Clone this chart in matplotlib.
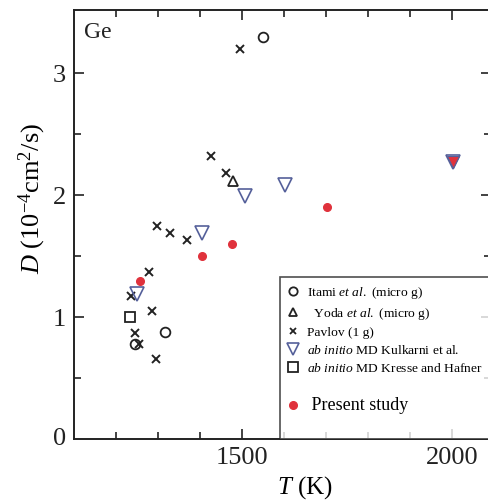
import matplotlib.pyplot as plt
from matplotlib.lines import Line2D

plt.rcParams['font.family'] = 'Liberation Serif'
plt.rcParams['mathtext.fontset'] = 'custom'
plt.rcParams['mathtext.rm'] = 'Liberation Serif'
plt.rcParams['mathtext.it'] = 'Liberation Serif:italic'

# %% Data (T in K, D in 1e-4 cm^2/s)
itami_T = [1549, 1245, 1316]
itami_D = [3.30, 0.78, 0.88]

yoda_T = [1478]
yoda_D = [2.12]

pavlov_T = [1496, 1427, 1462, 1297, 1328, 1368, 1278, 1236, 1286, 1246, 1254, 1294]
pavlov_D = [3.20, 2.32, 2.18, 1.75, 1.69, 1.63, 1.37, 1.17, 1.05, 0.87, 0.78, 0.66]

kulkarni_T = [1250, 1404, 1506, 1603, 2002]
kulkarni_D = [1.19, 1.69, 1.99, 2.08, 2.27]

kresse_T = [1233]
kresse_D = [1.00]

present_T = [1257, 1404, 1476, 1703]
present_D = [1.30, 1.50, 1.60, 1.90]

# point at 2000 K drawn as a filled red triangle
present_tri_T = [2002]
present_tri_D = [2.27]

red = '#e0323c'
blue = '#55609a'
dark = '#222222'

# %% Plot
fig = plt.figure(figsize=(4.89, 5.03), dpi=100)
ax = fig.add_axes([74 / 489, 64 / 503, 417 / 489, 429 / 503])

ax.plot(itami_T, itami_D, 'o', mfc='none', mec=dark, ms=7, mew=1.3)
ax.plot(yoda_T, yoda_D, '^', mfc='none', mec=dark, ms=7.5, mew=1.3)
ax.plot(pavlov_T, pavlov_D, 'x', color=dark, ms=5.5, mew=1.4)
ax.plot(kulkarni_T, kulkarni_D, 'v', mfc='none', mec=blue, ms=10, mew=1.2)
ax.plot(kresse_T, kresse_D, 's', mfc='none', mec=dark, ms=7.5, mew=1.3)
ax.plot(present_T, present_D, 'o', color=red, ms=5.5)
ax.plot(present_tri_T, present_tri_D, 'v', mfc=red, mec=blue, ms=9, mew=0.8)

ax.set_xlim(1100, 2092)
ax.set_ylim(0, 3.52)
ax.set_xticks([1500, 2000])
ax.set_xticks(range(1200, 2100, 100), minor=True)
ax.set_yticks([1, 2, 3])
ax.set_yticks([0.5, 1.5, 2.5], minor=True)
ax.tick_params(which='both', direction='in', top=True, right=True,
               labelsize=19, width=1.2, colors=dark)
ax.tick_params(which='major', length=7, pad=6)
ax.tick_params(which='minor', length=5)
for s in ax.spines.values():
    s.set_linewidth(1.4)
    s.set_color(dark)

ax.text(-0.02, 0, '0', transform=ax.transAxes, ha='right', va='center',
        fontsize=19, color=dark)

ax.set_xlabel('$T$ (K)', fontsize=18)
ax.xaxis.set_label_coords(0.554, -0.113)
ax.xaxis.label.set_va('center')
ax.set_ylabel('$D$ (10$^{-4}$cm$^2$/s)', fontsize=19)
ax.yaxis.set_label_coords(-0.10, 0.56)
ax.yaxis.label.set_va('center')
ax.text(0.024, 0.935, 'Ge', transform=ax.transAxes, fontsize=17, color=dark)

# Legend (blank rows give the gaps around "Present study")
handles = [
    Line2D([], [], ls='none', marker='o', mfc='none', mec=dark, ms=6, mew=1.3),
    Line2D([], [], ls='none', marker='^', mfc='none', mec=dark, ms=6, mew=1.3),
    Line2D([], [], ls='none', marker='x', color=dark, ms=5, mew=1.3),
    Line2D([], [], ls='none', marker='v', mfc='none', mec=blue, ms=8, mew=1.2),
    Line2D([], [], ls='none', marker='s', mfc='none', mec=dark, ms=6.5, mew=1.3),
    Line2D([], [], ls='none'),
    Line2D([], [], ls='none', marker='o', color=red, ms=5.5),
    Line2D([], [], ls='none'),
]
labels = [
    'Itami $et\\ al.$ (micro g)',
    '  Yoda $et\\ al.$ (micro g)',
    'Pavlov (1 g)',
    '$ab\\ initio$ MD Kulkarni et al.',
    '$ab\\ initio$ MD Kresse and Hafner',
    '',
    ' Present study',
    '',
]
leg = ax.legend(handles, labels, loc='lower right', bbox_to_anchor=(1.0, 0.0),
                fontsize=9.7, frameon=True, fancybox=False, edgecolor=dark,
                handlelength=0.8, handletextpad=0.6, labelspacing=0.36,
                borderpad=0.6, borderaxespad=0)
leg.get_frame().set_linewidth(1.2)
leg.get_texts()[-2].set_fontsize(13)

plt.savefig('out.png', dpi=100)
